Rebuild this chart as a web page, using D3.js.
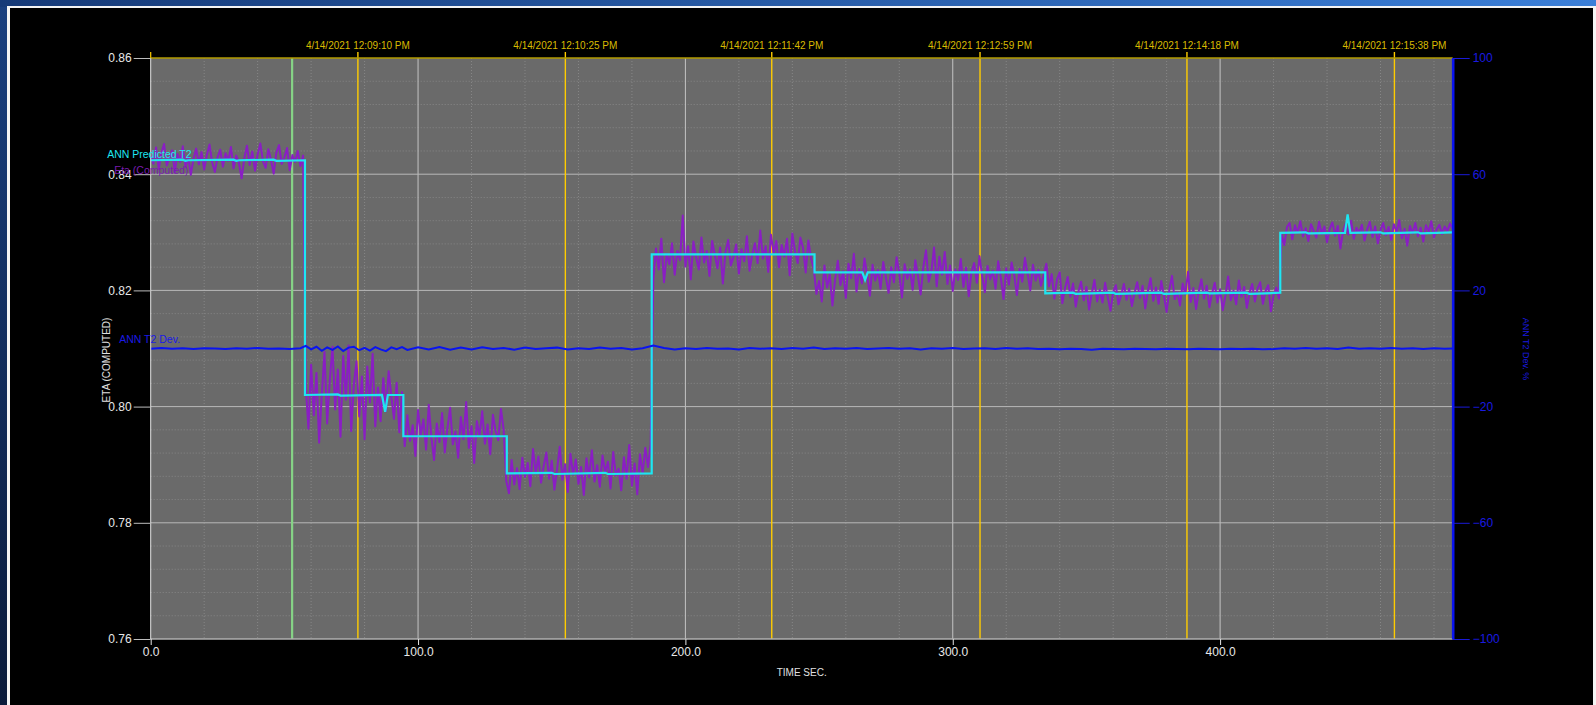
<!DOCTYPE html>
<html>
<head>
<meta charset="utf-8">
<script src="https://cdn.jsdelivr.net/npm/d3@7"></script>
<style>
  html, body { margin: 0; padding: 0; background: #000; overflow: hidden; }
  svg { display: block; font-family: "Liberation Sans", Arial, sans-serif; }
</style>
</head>
<body>
<svg id="chart" width="1596" height="705"></svg>
<script>
// ETA (computed), sampled once per second from t = 0 s
const etaComputed = [
  0.8431,0.8418,0.8446,0.8409,0.8437,0.8452,0.8415,0.8428,0.8441,0.8403,
  0.8435,0.8421,0.8448,0.8412,0.8430,0.8399,0.8426,0.8444,0.8417,0.8438,
  0.8408,0.8433,0.8451,0.8420,0.8404,0.8429,0.8442,0.8413,0.8436,0.8423,
  0.8447,0.8410,0.8432,0.8419,0.8393,0.8427,0.8449,0.8416,0.8439,0.8406,
  0.8434,0.8453,0.8422,0.8411,0.8443,0.8425,0.8401,0.8437,0.8450,0.8418,
  0.8429,0.8445,0.8407,0.8433,0.8421,0.8440,0.8414,0.8432,
  0.8035,0.7962,0.8072,0.7985,0.8058,0.7938,0.8021,0.8094,0.7971,0.8046,
  0.8103,0.7995,0.8064,0.7948,0.8087,0.8012,0.8105,0.7958,0.8039,0.8078,
  0.7983,0.8052,0.7944,0.8069,0.8007,0.8091,0.7966,0.8033,0.7975,0.8049,
  0.7992,0.8061,0.8018,0.7979,0.8041,0.7956,0.8025,
  0.7932,0.7985,0.7941,0.7968,0.7915,0.7994,0.7952,0.7978,0.7926,0.8003,
  0.7947,0.7908,0.7971,0.7939,0.7989,0.7921,0.7963,0.7998,0.7935,0.7957,
  0.7912,0.7982,0.7944,0.8008,0.7929,0.7966,0.7903,0.7975,0.7949,0.7992,
  0.7936,0.7969,0.7918,0.7986,0.7958,0.7942,0.7996,0.7961,
  0.7872,0.7851,0.7908,0.7866,0.7894,0.7858,0.7912,0.7879,0.7903,0.7863,
  0.7927,0.7885,0.7914,0.7869,0.7898,0.7921,0.7876,0.7907,0.7857,0.7892,
  0.7931,0.7874,0.7901,0.7853,0.7919,0.7883,0.7909,0.7867,0.7896,0.7848,
  0.7911,0.7878,0.7925,0.7871,0.7899,0.7862,0.7916,0.7887,0.7905,0.7859,
  0.7922,0.7881,0.7893,0.7856,0.7913,0.7876,0.7934,0.7864,0.7902,0.7849,
  0.7918,0.7885,0.7929,0.7896,0.7935,
  0.8218,0.8272,0.8236,0.8289,0.8214,0.8263,0.8245,0.8281,0.8227,0.8268,
  0.8252,0.8329,0.8241,0.8276,0.8219,0.8284,0.8257,0.8236,0.8291,0.8248,
  0.8268,0.8225,0.8285,0.8261,0.8238,0.8274,0.8212,0.8266,0.8287,0.8243,
  0.8258,0.8279,0.8229,0.8271,0.8250,0.8293,0.8234,0.8262,0.8281,0.8247,
  0.8303,0.8255,0.8276,0.8232,0.8296,0.8264,0.8285,0.8240,0.8278,0.8258,
  0.8289,0.8226,0.8298,0.8267,0.8247,0.8291,0.8273,0.8231,0.8286,0.8255,
  0.8238,0.8194,0.8216,0.8181,0.8243,0.8205,0.8228,0.8174,0.8219,0.8251,
  0.8209,0.8233,0.8187,0.8246,0.8221,0.8263,0.8198,0.8237,0.8212,0.8255,
  0.8226,0.8191,0.8244,0.8217,0.8235,0.8203,0.8249,0.8222,0.8196,0.8240,
  0.8214,0.8257,0.8229,0.8188,0.8245,0.8220,0.8236,0.8201,0.8252,0.8224,
  0.8193,0.8241,0.8269,0.8215,0.8232,0.8274,0.8207,0.8258,0.8227,0.8266,
  0.8211,0.8243,0.8199,0.8236,0.8218,0.8254,0.8206,0.8239,0.8190,0.8231,
  0.8247,0.8213,0.8259,0.8224,0.8197,0.8242,0.8219,0.8234,0.8203,0.8250,
  0.8221,0.8185,0.8238,0.8210,0.8248,0.8226,0.8192,0.8237,0.8215,0.8256,
  0.8229,0.8200,0.8244,0.8217,0.8235,0.8208,0.8226,
  0.8246,0.8207,0.8228,0.8186,0.8219,0.8231,0.8178,0.8204,0.8223,0.8189,
  0.8212,0.8172,0.8198,0.8215,0.8183,0.8206,0.8167,0.8195,0.8218,0.8181,
  0.8201,0.8179,0.8213,0.8188,0.8165,0.8197,0.8209,0.8176,0.8192,0.8211,
  0.8184,0.8203,0.8173,0.8196,0.8214,0.8187,0.8208,0.8169,0.8199,0.8221,
  0.8182,0.8205,0.8177,0.8216,0.8190,0.8163,0.8201,0.8225,0.8185,0.8197,
  0.8174,0.8212,0.8193,0.8232,0.8180,0.8204,0.8168,0.8198,0.8219,0.8186,
  0.8208,0.8171,0.8195,0.8213,0.8179,0.8202,0.8166,0.8191,0.8224,0.8183,
  0.8200,0.8176,0.8217,0.8189,0.8206,0.8170,0.8196,0.8211,0.8181,0.8203,
  0.8214,0.8177,0.8199,0.8209,0.8164,0.8192,0.8205,0.8186,
  0.8296,0.8278,0.8309,0.8316,0.8288,0.8312,0.8299,0.8319,0.8293,0.8307,
  0.8285,0.8314,0.8302,0.8291,0.8318,0.8297,0.8310,0.8283,0.8306,0.8317,
  0.8294,0.8311,0.8272,0.8303,0.8315,0.8296,0.8320,0.8289,0.8308,0.8299,
  0.8313,0.8286,0.8305,0.8318,0.8292,0.8310,0.8281,0.8304,0.8316,0.8295,
  0.8309,0.8287,0.8314,0.8300,0.8321,0.8290,0.8306,0.8277,0.8311,0.8298,
  0.8316,0.8293,0.8308,0.8284,0.8312,0.8301,0.8319,0.8291,0.8305,0.8313,
  0.8297,0.8310,0.8302,0.8315,0.8306
];

// ANN predicted T2: [time s, value]
const annPredicted = [
  [0,0.8424],[12,0.8425],[13,0.8423],[14,0.8424],[31,0.8425],[32,0.8423],[33,0.8424],
  [46,0.8425],[47,0.8423],[57.7,0.8424],
  [57.7,0.8020],[70,0.8021],[71,0.8019],[86.5,0.8020],[87.7,0.7991],[88.7,0.8020],[94.5,0.8020],
  [94.5,0.7949],[133.2,0.7949],
  [133.2,0.7885],[150,0.7886],[151,0.7884],[170,0.7886],[171,0.7884],[187.4,0.7885],
  [187.4,0.8262],[248.3,0.8262],
  [248.3,0.8231],[266.2,0.8231],[267.2,0.8218],[268.2,0.8231],[334.6,0.8231],
  [334.6,0.8195],[345,0.8196],[346,0.8194],[360,0.8196],[361,0.8194],[378,0.8196],
  [379,0.8194],[395,0.8196],[396,0.8195],[410,0.8196],[411,0.8194],[422.5,0.8196],
  [422.5,0.8299],[432,0.8300],[433,0.8298],[446.7,0.8299],[447.7,0.8331],[448.7,0.8299],
  [460,0.8300],[461,0.8298],[474,0.8300],[475,0.8298],[487,0.8300]
];

// ANN T2 deviation (%): [time s, value]
const annDev = [
  [0,-0.1],[4,0.2],[8,-0.1],[12,0.1],[16,-0.2],[20,0.1],[24,0.0],[28,-0.2],[32,0.1],[36,-0.1],
  [40,0.2],[44,-0.1],[48,0.0],[52,-0.2],[56,0.1],[58,0.9],[60,-0.3],[62,0.6],[64,-0.8],[66,0.4],
  [68,-0.5],[70,0.7],[72,-0.9],[74,0.3],[76,0.6],[78,-0.6],[80,0.2],[82,-0.7],[84,0.5],[86,-0.3],
  [88,-0.9],[90,0.4],[92,-0.2],[94,0.5],[96,-0.5],[100,0.4],[104,-0.3],[108,0.5],[112,-0.4],[116,0.3],
  [120,-0.3],[124,0.4],[128,-0.2],[132,0.2],[136,-0.4],[140,0.3],[144,-0.2],[148,0.1],[152,0.3],[156,-0.3],
  [160,0.1],[164,-0.2],[168,0.3],[172,-0.1],[176,0.2],[180,-0.3],[184,0.1],[188,1.0],[192,0.2],[196,-0.3],
  [200,0.1],[204,-0.2],[208,0.2],[212,-0.1],[216,0.0],[220,-0.3],[224,0.2],[228,-0.1],[232,0.1],[236,-0.2],
  [240,0.2],[244,-0.1],[248,0.3],[252,-0.2],[256,0.1],[260,-0.1],[264,0.2],[268,-0.2],[272,0.0],[276,0.2],
  [280,-0.1],[284,0.1],[288,-0.3],[292,0.1],[296,-0.1],[300,0.2],[304,-0.2],[308,0.0],[312,0.1],[316,-0.2],
  [320,0.2],[324,-0.1],[328,0.1],[332,-0.2],[336,-0.1],[340,-0.3],[344,-0.1],[348,-0.2],[352,-0.4],[356,-0.1],
  [360,-0.2],[364,-0.3],[368,-0.1],[372,-0.2],[376,-0.3],[380,-0.1],[384,-0.2],[388,-0.3],[392,-0.1],[396,-0.2],
  [400,-0.3],[404,-0.1],[408,-0.2],[412,-0.1],[416,-0.3],[420,-0.2],[424,0.1],[428,-0.1],[432,0.2],[436,-0.1],
  [440,0.1],[444,-0.2],[448,0.3],[452,-0.1],[456,0.1],[460,-0.1],[464,0.2],[468,-0.1],[472,0.1],[476,-0.2],
  [480,0.1],[484,-0.1],[487,0.0]
];

const leftTicks = [0.76, 0.78, 0.80, 0.82, 0.84, 0.86];
const rightTicks = [100, 60, 20, -20, -60, -100];
const xTicks = [0, 100, 200, 300, 400];
const markerTimes = [77.5, 155.1, 232.3, 310.2, 387.6, 465.2];
const markerLabels = [
  "4/14/2021 12:09:10 PM", "4/14/2021 12:10:25 PM", "4/14/2021 12:11:42 PM",
  "4/14/2021 12:12:59 PM", "4/14/2021 12:14:18 PM", "4/14/2021 12:15:38 PM"
];
const cursorTime = 52.9;

const W = 1596, H = 705;
const plot = { left: 150.7, right: 1452.7, top: 58, bottom: 639 };

const svg = d3.select("#chart");

// window frame
const defs = svg.append("defs");
const gTop = defs.append("linearGradient").attr("id", "topband").attr("x1", 0).attr("x2", 1);
gTop.append("stop").attr("offset", 0).attr("stop-color", "#163a78");
gTop.append("stop").attr("offset", 1).attr("stop-color", "#3b7fd8");
const gLeft = defs.append("linearGradient").attr("id", "leftband").attr("x1", 0).attr("x2", 0).attr("y1", 0).attr("y2", 1);
gLeft.append("stop").attr("offset", 0).attr("stop-color", "#1a4080");
gLeft.append("stop").attr("offset", 1).attr("stop-color", "#0a1a3a");
svg.append("rect").attr("width", W).attr("height", H).attr("fill", "url(#leftband)");
svg.append("rect").attr("width", W).attr("height", 7).attr("fill", "url(#topband)");
svg.append("rect").attr("x", 7).attr("y", 6).attr("width", 1589).attr("height", H).attr("fill", "#f4f4f4");
svg.append("rect").attr("x", 10).attr("y", 8).attr("width", 1583).attr("height", H).attr("fill", "#000");

defs.append("clipPath").attr("id", "plotclip").append("rect")
  .attr("x", plot.left).attr("y", plot.top)
  .attr("width", plot.right - plot.left).attr("height", plot.bottom - plot.top);

const x = d3.scaleLinear().domain([0, 487]).range([plot.left, plot.right]);
const yL = d3.scaleLinear().domain([0.76, 0.86]).range([plot.bottom, plot.top]);
const yR = d3.scaleLinear().domain([-100, 100]).range([plot.bottom, plot.top]);

// plot background
svg.append("rect").attr("x", plot.left).attr("y", plot.top)
  .attr("width", plot.right - plot.left).attr("height", plot.bottom - plot.top)
  .attr("fill", "#6a6a6a");

// minor grid (dotted)
const minorX = d3.range(20, 487, 20).filter(v => v % 100 !== 0);
const minorY = d3.range(0.764, 0.8599, 0.004).filter(v => Math.abs((v * 100) % 2) > 0.05 && Math.abs((v * 100) % 2 - 2) > 0.05);
const grid = svg.append("g");
grid.selectAll(".mx").data(minorX).join("line")
  .attr("x1", d => x(d)).attr("x2", d => x(d)).attr("y1", plot.top).attr("y2", plot.bottom)
  .attr("stroke", "#878787").attr("stroke-width", 1).attr("stroke-dasharray", "1,2");
grid.selectAll(".my").data(minorY).join("line")
  .attr("x1", plot.left).attr("x2", plot.right).attr("y1", d => yL(d)).attr("y2", d => yL(d))
  .attr("stroke", "#878787").attr("stroke-width", 1).attr("stroke-dasharray", "1,2");

// major grid
grid.selectAll(".Mx").data(xTicks.filter(d => d > 0)).join("line")
  .attr("x1", d => x(d)).attr("x2", d => x(d)).attr("y1", plot.top).attr("y2", plot.bottom)
  .attr("stroke", "#c4c4c4").attr("stroke-width", 1);
grid.selectAll(".My").data(leftTicks.filter(d => d > 0.76 && d < 0.86)).join("line")
  .attr("x1", plot.left).attr("x2", plot.right).attr("y1", d => yL(d)).attr("y2", d => yL(d))
  .attr("stroke", "#b8b8b8").attr("stroke-width", 1);

// cursor line
svg.append("line").attr("x1", x(cursorTime)).attr("x2", x(cursorTime))
  .attr("y1", plot.top).attr("y2", plot.bottom)
  .attr("stroke", "#86d386").attr("stroke-width", 2.2);

// time markers
svg.selectAll(".marker").data(markerTimes).join("line")
  .attr("x1", d => x(d)).attr("x2", d => x(d)).attr("y1", 52).attr("y2", plot.bottom)
  .attr("stroke", "#ffcc00").attr("stroke-width", 1.4);
svg.selectAll(".mlabel").data(markerTimes).join("text")
  .attr("x", d => x(d)).attr("y", 48.5).attr("text-anchor", "middle")
  .attr("font-size", 10).attr("fill", "#d9bb00")
  .text((d, i) => markerLabels[i]);
svg.append("line").attr("x1", plot.left).attr("x2", plot.left).attr("y1", 52).attr("y2", plot.top)
  .attr("stroke", "#ffcc00").attr("stroke-width", 1.2);

// series
const series = svg.append("g").attr("clip-path", "url(#plotclip)");
series.append("path").datum(etaComputed)
  .attr("d", d3.line().x((d, i) => x(i)).y(d => yL(d)))
  .attr("fill", "none").attr("stroke", "#8a1ec4").attr("stroke-width", 2).attr("stroke-linejoin", "round");
series.append("path").datum(annPredicted)
  .attr("d", d3.line().x(d => x(d[0])).y(d => yL(d[1])))
  .attr("fill", "none").attr("stroke", "#1ee6f2").attr("stroke-width", 2.2);
series.append("path").datum(annDev)
  .attr("d", d3.line().x(d => x(d[0])).y(d => yR(d[1])))
  .attr("fill", "none").attr("stroke", "#0a14f0").attr("stroke-width", 2);

// plot frame
svg.append("line").attr("x1", plot.left).attr("x2", plot.right).attr("y1", plot.top).attr("y2", plot.top)
  .attr("stroke", "#b39b00").attr("stroke-width", 1.5);
svg.append("line").attr("x1", plot.left).attr("x2", plot.right).attr("y1", plot.bottom).attr("y2", plot.bottom)
  .attr("stroke", "#b0b0b0").attr("stroke-width", 1.5);
svg.append("line").attr("x1", plot.left).attr("x2", plot.left).attr("y1", plot.top).attr("y2", plot.bottom)
  .attr("stroke", "#e6e6e6").attr("stroke-width", 1);

// left axis
const axL = svg.append("g").attr("transform", `translate(${plot.left},0)`)
  .call(d3.axisLeft(yL).tickValues(leftTicks).tickFormat(d3.format(".2f")).tickSize(17).tickPadding(2));
axL.select(".domain").remove();
axL.selectAll("line").attr("stroke", "#bdbdbd");
axL.selectAll("text").attr("fill", "#e8e8e8").attr("font-size", 12).attr("font-family", "Liberation Sans, Arial, sans-serif");

// right axis
const axR = svg.append("g").attr("transform", `translate(${plot.right},0)`)
  .call(d3.axisRight(yR).tickValues(rightTicks).tickSize(17).tickPadding(3));
axR.select(".domain").attr("stroke", "#0a14f0").attr("stroke-width", 2.6)
  .attr("d", `M0.5,${plot.top}V${plot.bottom}`);
axR.selectAll("line").attr("stroke", "#1a1ad8");
axR.selectAll("text").attr("fill", "#1a1ae0").attr("font-size", 12).attr("font-family", "Liberation Sans, Arial, sans-serif");

// bottom axis
const axB = svg.append("g").attr("transform", `translate(0,${plot.bottom})`)
  .call(d3.axisBottom(x).tickValues(xTicks).tickFormat(d3.format(".1f")).tickSize(6).tickPadding(2));
axB.select(".domain").remove();
axB.selectAll("line").attr("stroke", "#e6e6e6");
axB.selectAll("text").attr("fill", "#e8e8e8").attr("font-size", 12).attr("font-family", "Liberation Sans, Arial, sans-serif");

// axis titles
svg.append("text").attr("x", (plot.left + plot.right) / 2).attr("y", 676)
  .attr("text-anchor", "middle").attr("font-size", 10).attr("fill", "#e0e0e0").text("TIME SEC.");
svg.append("text").attr("transform", "translate(110,360) rotate(-90)")
  .attr("text-anchor", "middle").attr("font-size", 10).attr("fill", "#e0e0e0").text("ETA (COMPUTED)");
svg.append("text").attr("transform", "translate(1522.5,349) rotate(90)")
  .attr("text-anchor", "middle").attr("font-size", 9).attr("fill", "#1a1ae0").text("ANN T2 Dev. %");

// series labels (drawn at each series' starting level, left of the plot)
svg.append("text").attr("x", plot.left - 43.5).attr("y", yL(annPredicted[0][1]) - 2.5)
  .attr("font-size", 10.5).attr("fill", "#1ee6f2").text("ANN Predicted T2");
svg.append("text").attr("x", plot.left - 36.5).attr("y", yL(annPredicted[0][1]) + 14)
  .attr("font-size", 10.5).attr("fill", "#7a1cb0").text("Eta (Computed)");
svg.append("text").attr("x", plot.left - 31.5).attr("y", yR(annDev[0][1]) - 5.5)
  .attr("font-size", 10.5).attr("fill", "#1a1ae6").text("ANN T2 Dev.");
</script>
</body>
</html>
